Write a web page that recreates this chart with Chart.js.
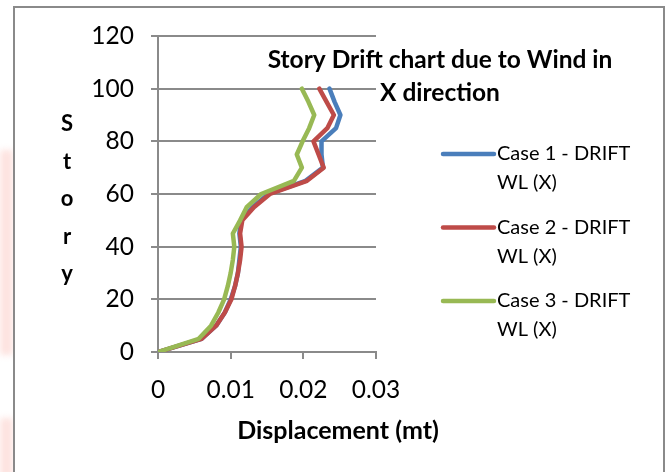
<!DOCTYPE html>
<html>
<head>
<meta charset="utf-8">
<script src="https://cdn.jsdelivr.net/npm/chart.js@4/dist/chart.umd.min.js"></script>
<style>
  html, body { margin: 0; padding: 0; background: #ffffff; }
  #wrap { position: relative; width: 666px; height: 472px; overflow: hidden; background: #ffffff; }
  .haze { position: absolute; left: 0; width: 13px; background: #fde3e0; filter: blur(3px); }
  #frame { position: absolute; left: 13px; top: 6px; width: 648px; height: 520px;
           border: 2px solid #8a8a8a; background: #ffffff; box-sizing: content-box; }
  canvas { position: absolute; left: 0; top: 0; }
</style>
</head>
<body>
<div id="wrap">
  <div class="haze" style="top:150px;height:205px;"></div>
  <div class="haze" style="top:418px;height:60px;"></div>
  <div id="frame"></div>
  <canvas id="c" width="666" height="472"></canvas>
</div>
<script>
// Story levels (y) and lateral drift displacement (x, metres) for each load case
const stories = [0, 5, 10, 15, 20, 25, 30, 35, 40, 45, 50, 55, 60, 65, 70, 75, 80, 85, 90, 95, 100];
const case1Drift = [0, 0.0060, 0.0080, 0.0092, 0.0100, 0.0106, 0.0110, 0.0112, 0.0114, 0.0112, 0.0114, 0.0130, 0.0152, 0.0203, 0.0227, 0.0225, 0.0225, 0.0245, 0.0251, 0.0243, 0.0236];
const case2Drift = [0, 0.0060, 0.0080, 0.0092, 0.0101, 0.0106, 0.0110, 0.0113, 0.0115, 0.0113, 0.0116, 0.0132, 0.0154, 0.0205, 0.0228, 0.0221, 0.0214, 0.0233, 0.0242, 0.0232, 0.0222];
const case3Drift = [0, 0.0056, 0.0073, 0.0083, 0.0091, 0.0096, 0.0100, 0.0103, 0.0105, 0.0103, 0.0113, 0.0122, 0.0142, 0.0187, 0.0198, 0.0191, 0.0199, 0.0208, 0.0215, 0.0207, 0.0198];

const seriesNames = [['Case 1 - DRIFT', 'WL (X)'], ['Case 2 - DRIFT', 'WL (X)'], ['Case 3 - DRIFT', 'WL (X)']];
const seriesColors = ['#4a7ebb', '#be4b48', '#98b954'];
const xTickLabels = ['0', '0.01', '0.02', '0.03'];
const yTickLabels = ['0', '20', '40', '60', '80', '100', '120'];
const titleLines = ['Story Drift chart due to Wind in', 'X direction'];
const yTitle = 'Story';
const xTitle = 'Displacement (mt)';

const FONT = 'Lato, "Open Sans", sans-serif';
const GRID = '#8a8a8a';

function toPoints(values) {
  return values.map((v, i) => ({ x: v, y: stories[i] }));
}

const drifts = [case1Drift, case2Drift, case3Drift];
const datasets = drifts.map((d, i) => ({
  label: seriesNames[i].join(' '),
  data: toPoints(d),
  borderColor: seriesColors[i],
  backgroundColor: seriesColors[i],
  borderWidth: 4.5,
  borderJoinStyle: 'round',
  borderCapStyle: 'round',
  pointRadius: 0,
  showLine: true,
  tension: 0,
  order: 2 - i
}));

// Title, vertical axis caption, x-axis caption and the two-line legend
const annotations = {
  id: 'annotations',
  afterDraw(chart) {
    const ctx = chart.ctx;
    ctx.save();
    ctx.fillStyle = '#000000';

    // chart title, two centred lines
    ctx.font = 'bold 24.5px ' + FONT;
    ctx.textAlign = 'center';
    ctx.textBaseline = 'middle';
    titleLines.forEach((t, i) => ctx.fillText(t, 440, 60 + i * 33));

    // axis caption down the left side, one letter per row
    ctx.font = 'bold 22px ' + FONT;
    yTitle.split('').forEach((ch, i) => ctx.fillText(ch, 67, 124 + i * 37.5));

    // x-axis caption
    ctx.font = 'bold 25px ' + FONT;
    ctx.fillText(xTitle, 338, 431);

    // legend
    ctx.font = '20px ' + FONT;
    ctx.textAlign = 'left';
    seriesNames.forEach((lines, i) => {
      const y = 154 + i * 73.5;
      ctx.strokeStyle = seriesColors[i];
      ctx.lineWidth = 4.5;
      ctx.lineCap = 'round';
      ctx.beginPath();
      ctx.moveTo(443, y);
      ctx.lineTo(494, y);
      ctx.stroke();
      lines.forEach((t, j) => ctx.fillText(t, 497, y + j * 29));
    });
    ctx.restore();
  }
};

new Chart(document.getElementById('c'), {
  type: 'scatter',
  data: { datasets },
  options: {
    responsive: false,
    animation: false,
    layout: { padding: { left: 0, top: 36, right: 290, bottom: 60 } },
    plugins: {
      legend: { display: false },
      title: { display: false },
      tooltip: { enabled: false }
    },
    scales: {
      x: {
        type: 'linear',
        min: 0,
        max: 0.03,
        ticks: {
          stepSize: 0.01,
          color: '#000000',
          font: { family: FONT, size: 24.5 },
          padding: 16,
          maxRotation: 0,
          callback: (v, i) => xTickLabels[i]
        },
        grid: { drawOnChartArea: false, drawTicks: true, tickLength: 7, color: GRID, lineWidth: 2 },
        border: { display: true, color: GRID, width: 2 },
        afterFit: s => { s.height = 60; }
      },
      y: {
        type: 'linear',
        min: 0,
        max: 120,
        ticks: {
          stepSize: 20,
          color: '#000000',
          font: { family: FONT, size: 24.5 },
          padding: 17,
          callback: (v, i) => yTickLabels[i]
        },
        grid: { drawOnChartArea: true, drawTicks: true, tickLength: 7, color: GRID, lineWidth: 2 },
        border: { display: true, color: GRID, width: 2 },
        afterFit: s => { s.width = 158; }
      }
    }
  },
  plugins: [annotations]
});
</script>
</body>
</html>
